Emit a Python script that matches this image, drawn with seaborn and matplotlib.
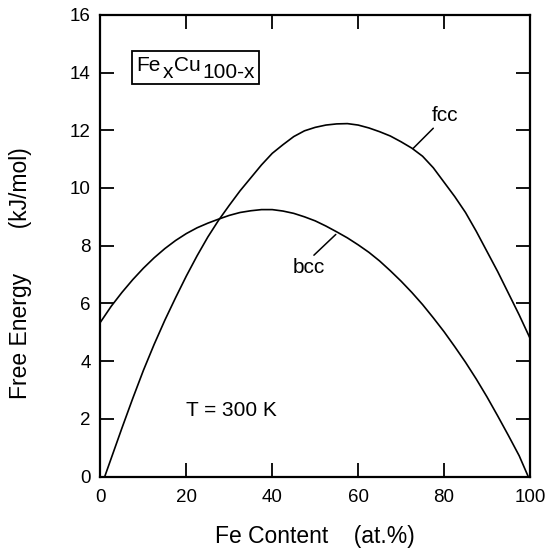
import matplotlib
matplotlib.use("Agg")
import matplotlib.pyplot as plt
import matplotlib.patches as mpatches
from matplotlib.transforms import offset_copy
import seaborn as sns
import pandas as pd

# Free energy of Fe_xCu_100-x solid solutions at 300 K (kJ/mol)
fcc_x = [1, 2.5, 5, 7.5, 10, 12.5, 15, 17.5, 20, 22.5, 25, 27.5, 30, 32.5, 35, 37.5, 40,
         42.5, 45, 47.5, 50, 52.5, 55, 57.5, 60, 62.5, 65, 67.5, 70, 72.5, 75, 77.5, 80,
         82.5, 85, 87.5, 90, 92.5, 95, 97.5, 100]
fcc_g = [0.0, 0.63, 1.68, 2.7, 3.68, 4.58, 5.42, 6.2, 6.95, 7.65, 8.3, 8.88, 9.4, 9.9, 10.35,
         10.8, 11.2, 11.5, 11.78, 11.98, 12.1, 12.18, 12.22, 12.23, 12.18, 12.08, 11.95,
         11.8, 11.6, 11.38, 11.1, 10.7, 10.2, 9.7, 9.15, 8.5, 7.8, 7.1, 6.35, 5.6, 4.8]

bcc_x = [0, 2.5, 5, 7.5, 10, 12.5, 15, 17.5, 20, 22.5, 25, 27.5, 30, 32.5, 35, 37.5, 40,
         42.5, 45, 47.5, 50, 52.5, 55, 57.5, 60, 62.5, 65, 67.5, 70, 72.5, 75, 77.5, 80,
         82.5, 85, 87.5, 90, 92.5, 95, 97.5, 99.6]
bcc_g = [5.35, 5.9, 6.38, 6.82, 7.22, 7.58, 7.9, 8.18, 8.42, 8.62, 8.78, 8.92, 9.05, 9.15,
         9.21, 9.25, 9.25, 9.2, 9.12, 9.0, 8.86, 8.68, 8.48, 8.27, 8.03, 7.77, 7.47, 7.13,
         6.77, 6.38, 5.96, 5.5, 5.02, 4.5, 3.96, 3.38, 2.76, 2.1, 1.42, 0.72, 0.0]

x_ticks = [0, 20, 40, 60, 80, 100]
y_ticks = [0, 2, 4, 6, 8, 10, 12, 14, 16]

sns.set_theme(style="ticks")
plt.rcParams["font.family"] = ["Liberation Sans", "DejaVu Sans"]
plt.rcParams["text.color"] = "black"
plt.rcParams["axes.labelcolor"] = "black"

df = pd.concat([
    pd.DataFrame({"x": fcc_x, "g": fcc_g, "phase": "fcc"}),
    pd.DataFrame({"x": bcc_x, "g": bcc_g, "phase": "bcc"}),
])

fig = plt.figure(figsize=(5.52, 5.49), dpi=100)
ax = fig.add_axes([0.182, 0.132, 0.778, 0.841])

sns.lineplot(data=df, x="x", y="g", units="phase", estimator=None, color="black",
             linewidth=1.2, sort=False, ax=ax, legend=False)

ax.set_xlim(0, 100)
ax.set_ylim(0, 16)
ax.set_xticks(x_ticks)
ax.set_yticks(y_ticks)
ax.tick_params(direction="in", length=10, width=1.3, top=True, right=True,
               labelsize=13.5, colors="black")
ax.tick_params(axis="x", pad=9)
ax.tick_params(axis="y", pad=7)
for s in ax.spines.values():
    s.set_linewidth(1.6)
    s.set_color("black")

ax.set_xlabel("Fe Content    (at.%)", fontsize=16.5)
ax.set_ylabel("Free Energy       (kJ/mol)", fontsize=16.5)
ax.xaxis.set_label_coords(0.5, -0.105)
ax.yaxis.set_label_coords(-0.16, 0.44)

# phase labels with leader lines
ax.text(80.2, 12.5, "fcc", fontsize=15, ha="center", va="center")
ax.plot([77.5, 72.8], [12.07, 11.37], color="black", linewidth=1.1)
ax.text(48.4, 7.26, "bcc", fontsize=15, ha="center", va="center")
ax.plot([49.7, 54.8], [7.67, 8.39], color="black", linewidth=1.1)

ax.text(20.0, 2.28, "T = 300 K", fontsize=15, ha="left", va="center")

# alloy formula label Fe_x Cu_100-x, subscripts drawn at full size and lowered
fs = 15
parts = [("Fe", 0), ("x", -7), ("Cu", 0), ("100-x", -7)]
r = fig.canvas.get_renderer()
texts = []
x_off = 0.0
for s, dy in parts:
    tr = offset_copy(ax.transData, fig=fig, x=x_off, y=dy, units="dots")
    t = ax.text(8.4, 14.04, s, fontsize=fs, ha="left", va="baseline", transform=tr)
    x_off += t.get_window_extent(r).width + 1.5
    texts.append(t)

boxes = [t.get_window_extent(r) for t in texts]
x0 = min(b.x0 for b in boxes) - 5
x1 = max(b.x1 for b in boxes) + 4
y0 = min(b.y0 for b in boxes) - 2
y1 = max(b.y1 for b in boxes) + 5
inv = fig.transFigure.inverted()
(fx0, fy0), (fx1, fy1) = inv.transform([(x0, y0), (x1, y1)])
fig.patches.append(mpatches.Rectangle((fx0, fy0), fx1 - fx0, fy1 - fy0, fill=False,
                                      edgecolor="black", linewidth=1.3,
                                      transform=fig.transFigure, figure=fig))

fig.savefig("out.png", dpi=100)
